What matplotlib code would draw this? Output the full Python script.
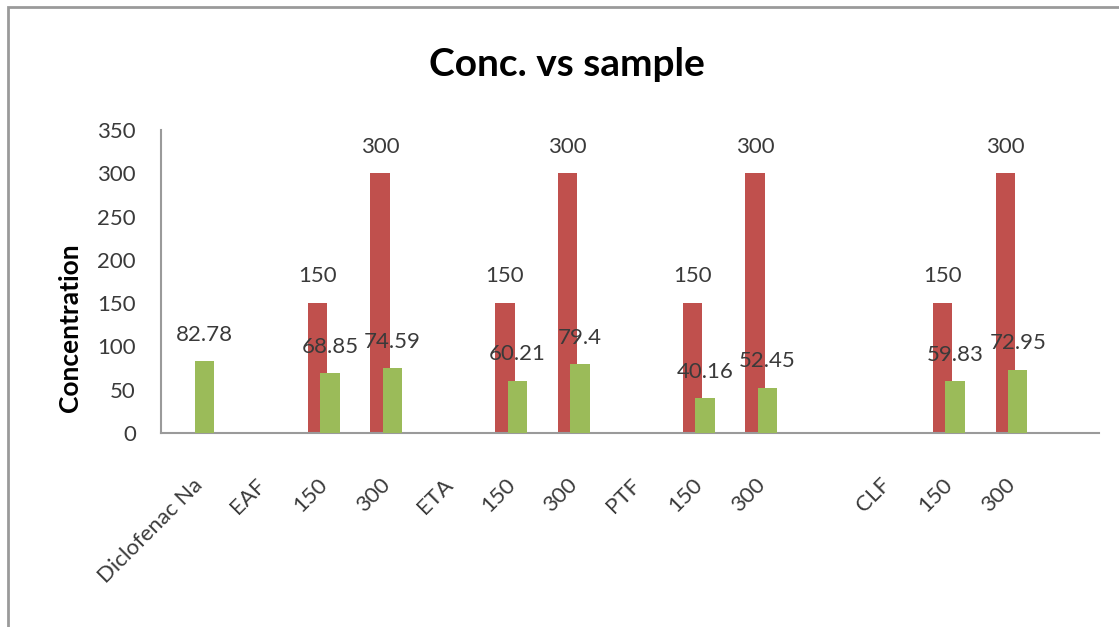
import numpy as np
import matplotlib
matplotlib.use("Agg")
import matplotlib.pyplot as plt
from matplotlib.patches import Rectangle

plt.rcParams['font.family'] = ['Lato', 'DejaVu Sans']

# categories along the x axis (two blank slots as in the original sheet)
categories = ["Diclofenac Na", "EAF", "150", "300", "ETA", "150", "300",
              "PTF", "150", "300", "", "CLF", "150", "300", ""]
# red series: dose
dose = [None, None, 150, 300, None, 150, 300, None, 150, 300, None, None, 150, 300, None]
# green series: measured concentration
conc = [82.78, None, 68.85, 74.59, None, 60.21, 79.4, None, 40.16, 52.45, None, None, 59.83, 72.95, None]

red = '#C0504D'
green = '#9BBB59'
txt = '#3a3a3a'

fig = plt.figure(figsize=(11.19, 6.27), dpi=100)
ax = fig.add_axes([161 / 1119, 1 - 433 / 627, 938 / 1119, 303 / 627])

x = np.arange(len(categories))
w = 0.31
off = 0.2

# red bars first, green drawn on top
for i, v in enumerate(dose):
    if v is None:
        continue
    ax.bar(x[i], v, w, color=red, zorder=2)
    ax.annotate(f"{v}", (x[i], v), xytext=(0, 12), textcoords='offset points',
                ha='center', va='bottom', fontsize=16, color=txt, zorder=5)

for i, v in enumerate(conc):
    if v is None:
        continue
    ax.bar(x[i] + off, v, w, color=green, zorder=3)
    ax.annotate(f"{v:g}", (x[i] + off, v), xytext=(0, 12), textcoords='offset points',
                ha='center', va='bottom', fontsize=16, color=txt, zorder=5)

ax.set_xlim(-0.5, len(categories) - 0.5)
ax.set_ylim(0, 350)
ax.set_yticks(np.arange(0, 351, 50))
ax.tick_params(axis='y', length=0, labelsize=16, labelcolor=txt, pad=18)
ax.set_xticks(x)
ax.set_xticklabels(categories, rotation=45, ha='right', rotation_mode='anchor',
                   fontsize=16, color=txt)
ax.tick_params(axis='x', length=0, pad=30)

for s in ['top', 'right']:
    ax.spines[s].set_visible(False)
for s in ['left', 'bottom']:
    ax.spines[s].set_color('#9a9a9a')
    ax.spines[s].set_linewidth(1.5)

fig.text(567 / 1119, 1 - 65 / 627, "Conc. vs sample", ha='center', va='center',
         fontsize=28, fontweight='bold', color='black')
fig.text(70 / 1119, 1 - 328 / 627, "Concentration", ha='center', va='center',
         rotation=90, fontsize=19, fontweight='bold', color='black')

# outer chart border (runs off the right and bottom edges)
fig.patches.append(Rectangle((8 / 1119, -0.05), 1.1, 1 - 7 / 627 + 0.05,
                             transform=fig.transFigure, fill=False,
                             edgecolor='#9a9a9a', linewidth=2))

fig.savefig("out.png", dpi=100)
